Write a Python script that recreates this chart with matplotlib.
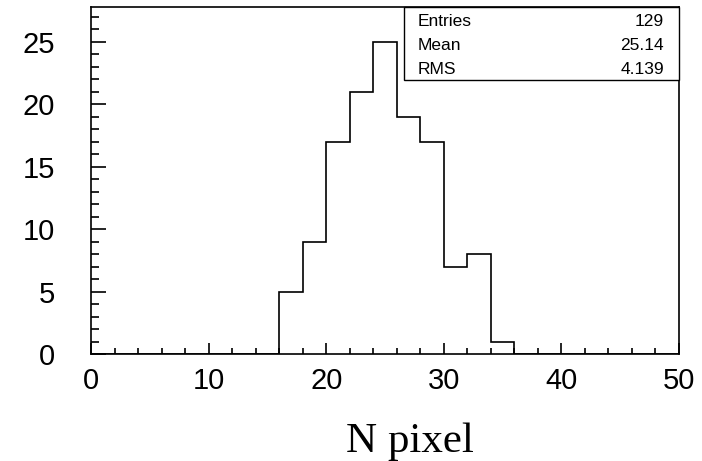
import matplotlib
matplotlib.use("Agg")
import matplotlib.pyplot as plt
from matplotlib.patches import Rectangle
import numpy as np

# Data
bin_edges = [0, 2, 4, 6, 8, 10, 12, 14, 16, 18, 20, 22, 24, 26, 28, 30, 32, 34, 36,
             38, 40, 42, 44, 46, 48, 50]
counts = [0, 0, 0, 0, 0, 0, 0, 0, 5, 9, 17, 21, 25, 19, 17, 7, 8, 1, 0,
          0, 0, 0, 0, 0, 0]
x_ticks = [0, 10, 20, 30, 40, 50]
y_ticks = [0, 5, 10, 15, 20, 25]
stat_names = ["Entries", "Mean", "RMS"]
stat_values = ["129", "25.14", "4.139"]
x_label = "N pixel"

W, H = 702, 461
fig = plt.figure(figsize=(W / 100, H / 100), dpi=100)
L, R, B, T = 91, 679, 354, 7
ax = fig.add_axes([L / W, (H - B) / H, (R - L) / W, (B - T) / H])

ax.stairs(counts, bin_edges, color="black", linewidth=1.2)
ax.set_xlim(0, 50)
ax.set_ylim(0, 27.8)

for s in ax.spines.values():
    s.set_linewidth(1.2)

ax.set_xticks(x_ticks)
ax.set_yticks(y_ticks)
ax.set_xticks(np.arange(0, 51, 2), minor=True)
ax.set_yticks(np.arange(0, 28, 1), minor=True)
ax.tick_params(which="both", direction="in", top=False, right=False, width=1.2,
               labelsize=21)
ax.tick_params(axis="x", which="major", length=8, pad=9)
ax.tick_params(axis="x", which="minor", length=4)
ax.tick_params(axis="y", which="major", length=11, pad=26)
ax.tick_params(axis="y", which="minor", length=6)
for lab in ax.get_xticklabels() + ax.get_yticklabels():
    lab.set_family("Liberation Sans")

fig.text(410 / W, (H - 452) / H, x_label, family="Liberation Serif", fontsize=31,
         ha="center", va="baseline")

# Stats box
bx0, bx1, by0, by1 = 404, 679, 7, 80
fig.patches.append(Rectangle((bx0 / W, (H - by1) / H), (bx1 - bx0) / W,
                             (by1 - by0) / H, transform=fig.transFigure,
                             facecolor="white", edgecolor="black", linewidth=1.0,
                             zorder=5))
row_y = [21, 45, 70]
for name, val, yy in zip(stat_names, stat_values, row_y):
    fig.text(418 / W, (H - yy) / H, name, family="Liberation Sans", fontsize=12.5,
             ha="left", va="center", zorder=6)
    fig.text(664 / W, (H - yy) / H, val, family="Liberation Sans", fontsize=12.5,
             ha="right", va="center", zorder=6)

fig.savefig("out.png", dpi=100)
